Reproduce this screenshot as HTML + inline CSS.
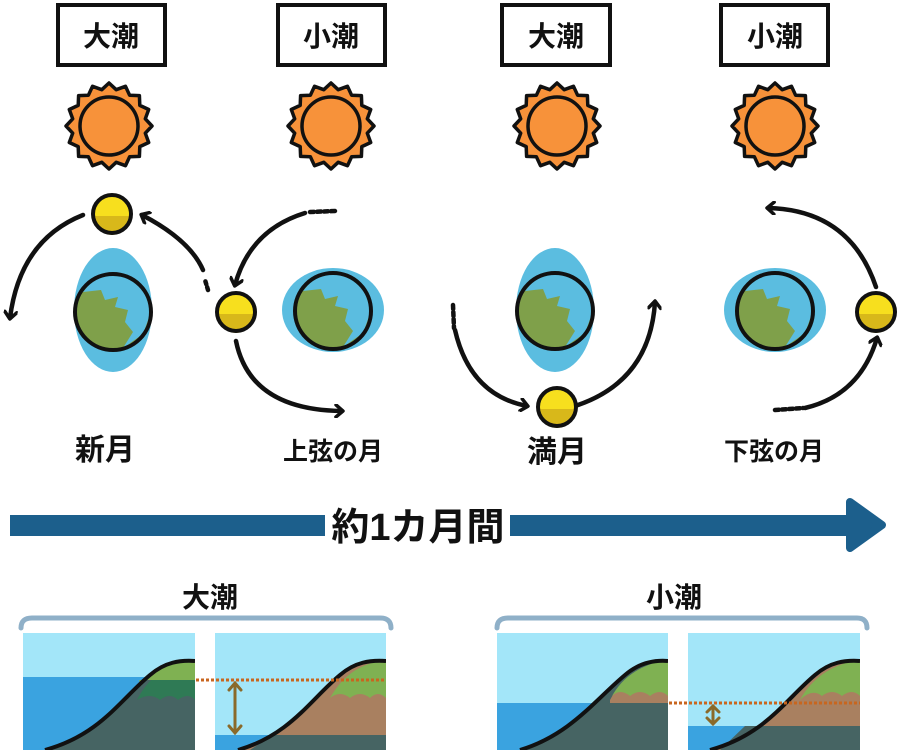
<!DOCTYPE html>
<html><head><meta charset="utf-8"><style>
body{margin:0;background:#fff}
svg{display:block}
text{font-family:"Liberation Sans","Noto Sans CJK JP",sans-serif;font-weight:bold;fill:#111}
</style></head><body>
<svg id="s" width="900" height="750" viewBox="0 0 900 750" xmlns="http://www.w3.org/2000/svg">
<defs>
<marker id="ah" markerWidth="14" markerHeight="14" refX="8" refY="7" orient="auto" markerUnits="userSpaceOnUse">
<path d="M2,1 L9,7 L2,13" fill="none" stroke="#111" stroke-width="3.5" stroke-linecap="round" stroke-linejoin="round"/>
</marker>
<g id="earth">
<circle r="38" fill="#7fa04a"/>
<path d="M-30,-20 L-12,-22 L-8,-12 L5,-15 L2,-5 L15,-2 L12,10 L20,20 L10,36 L30,22 L38,0 L30,-25 L10,-36 L-5,-38 L-20,-32 Z" fill="#5bbde0"/>
<circle r="38" fill="none" stroke="#111" stroke-width="4"/>
</g>
<g id="moon">
<circle r="19" fill="#f7df1e"/>
<path d="M-19,2 A19,19 0 0 0 19,2 Z" fill="#d8b81a"/>
<circle r="19" fill="none" stroke="#111" stroke-width="4"/>
</g>
<g id="sun">
<polygon id="star" fill="#f7923a" stroke="#111" stroke-width="3.5" stroke-linejoin="round"/>
<circle r="29" fill="#f7923a" stroke="#111" stroke-width="3.5"/>
</g>
</defs>

<g fill="#fff" stroke="#111" stroke-width="4">
<rect x="58" y="5" width="107" height="60"/>
<rect x="278" y="5" width="107" height="60"/>
<rect x="502" y="5" width="108" height="60"/>
<rect x="721" y="5" width="107" height="60"/>
</g>
<g font-size="28" text-anchor="middle">
<text x="111" y="46">大潮</text>
<text x="331" y="46">小潮</text>
<text x="556" y="46">大潮</text>
<text x="775" y="46">小潮</text>
</g>

<use href="#sun" x="109" y="126"/>
<use href="#sun" x="331" y="126"/>
<use href="#sun" x="557" y="126"/>
<use href="#sun" x="775" y="126"/>

<g fill="#5bbde0">
<ellipse cx="113" cy="310" rx="39" ry="62"/>
<ellipse cx="333" cy="310" rx="51" ry="42"/>
<ellipse cx="555" cy="310" rx="39" ry="62"/>
<ellipse cx="775" cy="310" rx="51" ry="42"/>
</g>
<use href="#earth" x="113" y="312"/>
<use href="#earth" x="333" y="311"/>
<use href="#earth" x="555" y="311"/>
<use href="#earth" x="775" y="311"/>

<g fill="none" stroke="#111" stroke-width="4.5" stroke-linecap="round">
<path d="M83,215 Q20,240 10,318" marker-end="url(#ah)"/>
<path d="M203,270 Q190,240 142,215" marker-end="url(#ah)"/>
<path d="M208,290 L205,280" stroke-dasharray="3,3"/>
<path d="M305,213 Q250,230 235,285" marker-end="url(#ah)"/>
<path d="M310,212 L335,211" stroke-dasharray="4,3"/>
<path d="M236,341 Q250,410 342,411" marker-end="url(#ah)"/>
<path d="M455,330 Q470,395 527,406" marker-end="url(#ah)"/>
<path d="M453,305 L454,328" stroke-dasharray="4,3"/>
<path d="M578,405 Q650,380 655,302" marker-end="url(#ah)"/>
<path d="M805,408 Q860,395 877,338" marker-end="url(#ah)"/>
<path d="M775,410 L803,408" stroke-dasharray="4,3"/>
<path d="M876,287 Q850,210 768,208" marker-end="url(#ah)"/>
</g>

<use href="#moon" x="112" y="214"/>
<use href="#moon" x="236" y="312"/>
<use href="#moon" x="557" y="407"/>
<use href="#moon" x="876" y="312"/>

<g font-size="30" text-anchor="middle">
<text x="105" y="460">新月</text>
<text x="557" y="462">満月</text>
</g>
<g font-size="25" text-anchor="middle">
<text x="333" y="460">上弦の月</text>
<text x="774" y="460">下弦の月</text>
</g>

<rect x="10" y="515" width="845" height="21" fill="#1c5f8c"/>
<path d="M850,502 L882,525 L850,548 Z" fill="#1c5f8c" stroke="#1c5f8c" stroke-width="8" stroke-linejoin="round"/>
<rect x="325" y="500" width="185" height="50" fill="#fff"/>
<text x="418" y="540" font-size="38" text-anchor="middle">約1カ月間</text>

<g font-size="28" text-anchor="middle">
<text x="210" y="607">大潮</text>
<text x="674" y="607">小潮</text>
</g>
<g fill="none" stroke="#8fb0c8" stroke-width="5" stroke-linecap="round">
<path d="M21,628 Q21,618 32,618 L380,618 Q391,618 391,628"/>
<path d="M497,628 Q497,618 508,618 L857,618 Q867,618 867,628"/>
</g>

<g>
<clipPath id="c1"><rect x="23" y="633" width="172" height="117"/></clipPath>
<g clip-path="url(#c1)">
<rect x="23" y="633" width="172" height="117" fill="#a3e6f9"/>
<rect x="23" y="677" width="172" height="73" fill="#3aa3e0"/>
<path d="M45,750 C100,735 120,700 150,675 C165,662 180,660 195,660 L195,750 Z" fill="#466463"/>
<path d="M137,700 C145,685 158,665 195,660 L195,700 Q188,692 178,700 Q170,692 160,700 Q150,692 137,700 Z" fill="#2f7a55"/>
<path d="M141,686 C150,672 165,662 195,660 L195,680 L139,680 Z" fill="#7fb152"/>
<path d="M45,750 C100,735 120,700 150,675 C165,662 180,660 195,661" fill="none" stroke="#111" stroke-width="4"/>
</g>
</g>
<g>
<clipPath id="c2"><rect x="215" y="633" width="171" height="117"/></clipPath>
<g clip-path="url(#c2)">
<rect x="215" y="633" width="171" height="117" fill="#a3e6f9"/>
<rect x="215" y="735" width="171" height="15" fill="#3aa3e0"/>
<path d="M238,750 C290,735 310,700 340,675 C355,662 370,660 386,660 L386,750 Z" fill="#a98060"/>
<path d="M330,698 C338,685 350,665 386,660 L386,698 Q378,690 370,698 Q360,690 350,698 Q340,690 330,698 Z" fill="#7fb152"/>
<path d="M272,735 L386,735 L386,750 L250,750 Z" fill="#466463"/>
<path d="M238,750 C290,735 310,700 340,675 C355,662 370,660 386,661" fill="none" stroke="#111" stroke-width="4"/>
</g>
<path d="M196,680 L385,680" stroke="#c8661f" stroke-width="3" stroke-dasharray="3,2"/>
<path d="M235,684 L235,732 M229,690 L235,683 L241,690 M229,726 L235,733 L241,726" stroke="#8a6a2a" stroke-width="3" fill="none" stroke-linecap="round"/>
</g>
<g>
<clipPath id="c3"><rect x="497" y="633" width="171" height="117"/></clipPath>
<g clip-path="url(#c3)">
<rect x="497" y="633" width="171" height="117" fill="#a3e6f9"/>
<rect x="497" y="703" width="171" height="47" fill="#3aa3e0"/>
<path d="M520,750 C570,735 595,700 625,675 C640,662 655,660 668,660 L668,750 Z" fill="#466463"/>
<path d="M610,700 C618,685 635,665 668,660 L668,703 L610,703 Z" fill="#a98060"/>
<path d="M612,696 C620,682 635,665 668,660 L668,696 Q660,688 650,696 Q640,688 630,696 Q620,688 612,696 Z" fill="#7fb152"/>
<path d="M520,750 C570,735 595,700 625,675 C640,662 655,660 668,661" fill="none" stroke="#111" stroke-width="4"/>
</g>
</g>
<g>
<clipPath id="c4"><rect x="688" y="633" width="172" height="117"/></clipPath>
<g clip-path="url(#c4)">
<rect x="688" y="633" width="172" height="117" fill="#a3e6f9"/>
<rect x="688" y="726" width="172" height="24" fill="#3aa3e0"/>
<path d="M710,750 C765,735 785,700 815,675 C830,662 845,660 860,660 L860,750 Z" fill="#a98060"/>
<path d="M800,700 C808,685 825,665 860,660 L860,696 Q852,688 842,696 Q832,688 822,696 Q812,688 800,700 Z" fill="#7fb152"/>
<path d="M745,726 L860,726 L860,750 L720,750 Z" fill="#466463"/>
<path d="M710,750 C765,735 785,700 815,675 C830,662 845,660 860,661" fill="none" stroke="#111" stroke-width="4"/>
</g>
<path d="M669,703 L860,703" stroke="#c8661f" stroke-width="3" stroke-dasharray="3,2"/>
<path d="M713,707 L713,723 M707,712 L713,706 L719,712 M707,718 L713,724 L719,718" stroke="#8a6a2a" stroke-width="3" fill="none" stroke-linecap="round"/>
</g>
</svg>
<script>
var p=[],n=16;for(var i=0;i<2*n;i++){var r=i%2?37:43,a=i*Math.PI/n;p.push((r*Math.cos(a)).toFixed(1)+","+(r*Math.sin(a)).toFixed(1));}
document.getElementById("star").setAttribute("points",p.join(" "));
</script>
</body></html>
